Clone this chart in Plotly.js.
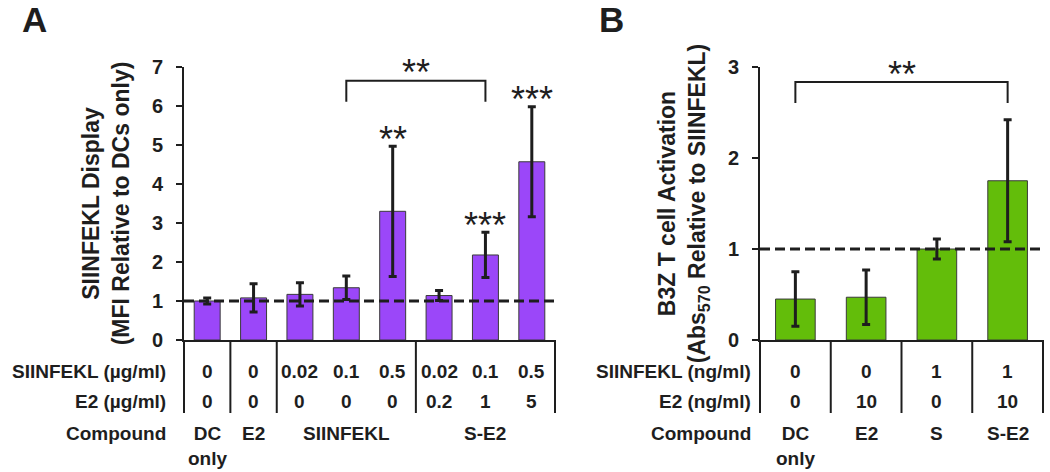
<!DOCTYPE html>
<html>
<head>
<meta charset="utf-8">
<script src="https://cdn.plot.ly/plotly-3.0.1.min.js"></script>
<style>
html,body{margin:0;padding:0;background:#ffffff;}
#chart{width:1050px;height:472px;}
</style>
</head>
<body>
<div id="chart"></div>
<script>
// ---------- Panel A data ----------
const aCompound = ["DC only", "E2", "SIINFEKL", "SIINFEKL", "SIINFEKL", "S-E2", "S-E2", "S-E2"];
const aSiinfekl = ["0", "0", "0.02", "0.1", "0.5", "0.02", "0.1", "0.5"];
const aE2 = ["0", "0", "0", "0", "0", "0.2", "1", "5"];
const aMean = [1.00, 1.08, 1.17, 1.34, 3.30, 1.14, 2.18, 4.57];
const aErr = [0.08, 0.36, 0.30, 0.30, 1.67, 0.13, 0.58, 1.41];
const aStars = ["", "", "", "", "**", "", "***", "***"];
const aTicks = [0, 1, 2, 3, 4, 5, 6, 7];
const aRowLabels = ["SIINFEKL (µg/ml)", "E2 (µg/ml)", "Compound"];
const aBracket = {from: 3, to: 6, label: "**"};

// ---------- Panel B data ----------
const bCompound = ["DC only", "E2", "S", "S-E2"];
const bSiinfekl = ["0", "0", "1", "1"];
const bE2 = ["0", "10", "0", "10"];
const bMean = [0.45, 0.47, 1.00, 1.75];
const bErr = [0.30, 0.30, 0.11, 0.67];
const bTicks = [0, 1, 2, 3];
const bRowLabels = ["SIINFEKL (ng/ml)", "E2 (ng/ml)", "Compound"];
const bBracket = {from: 0, to: 3, label: "**"};

const refLine = 1;

// ---------- style ----------
const FONT = '"Liberation Sans", Arial, Helvetica, sans-serif';
const INK = '#1e1e1e';
const PURPLE = '#9b47f9';
const GREEN = '#63bd0a';

// vertical geometry: plot area from y=67 to y=340 (px)
const TOP = 67, BOTTOM = 340, H = 472;
const PH = BOTTOM - TOP;
const py = p => (BOTTOM - p) / PH;     // pixel -> paper y
const ROW1 = py(371.5), ROW2 = py(401), ROW3TOP = py(421), DIVBOT = py(413);

function idx(arr) { return arr.map((_, i) => i); }

function barTrace(mean, err, color, xa, ya) {
  return {
    type: 'bar', x: idx(mean), y: mean, width: 0.56, xaxis: xa, yaxis: ya,
    marker: {color: color, line: {color: '#3a3a3a', width: 1}},
    error_y: {type: 'data', array: err, visible: true, color: INK, thickness: 3, width: 4},
    hoverinfo: 'skip'
  };
}

function groups(comp) {
  const g = [];
  comp.forEach((c, i) => {
    if (g.length && g[g.length - 1].name === c) g[g.length - 1].end = i;
    else g.push({name: c, start: i, end: i});
  });
  return g;
}

const shapes = [];
const annotations = [];

function buildPanel(p) {
  const n = p.mean.length;
  const xd = p.xa === 'x' ? 'x domain' : 'x2 domain';
  // reference dashed line
  shapes.push({type: 'line', xref: xd, yref: p.ya, x0: 0, x1: 1.006, y0: refLine, y1: refLine,
    line: {color: INK, width: 3, dash: '10px,5px'}, layer: 'above'});
  // group dividers below the axis
  const g = groups(p.comp);
  const bounds = g.map(o => o.start).concat([n]);
  bounds.forEach(b => {
    shapes.push({type: 'line', xref: xd, yref: 'paper', x0: b / n, x1: b / n, y0: 0, y1: DIVBOT,
      line: {color: INK, width: 2}});
  });
  // significance bracket
  const br = p.bracket;
  shapes.push({type: 'path', xref: p.xa, yref: p.ya,
    path: `M ${br.from} ${p.brLow} L ${br.from} ${p.brTop} L ${br.to} ${p.brTop} L ${br.to} ${p.brLow}`,
    line: {color: INK, width: 2}});
  annotations.push({xref: p.xa, yref: p.ya, x: (br.from + br.to) / 2, y: p.brTop, text: br.label,
    showarrow: false, yanchor: 'middle', yshift: 8, font: {size: 36, color: INK, family: FONT}});
  // stars above bars
  if (p.stars) p.stars.forEach((s, i) => {
    if (!s) return;
    annotations.push({xref: p.xa, yref: p.ya, x: i, y: p.mean[i] + p.err[i], text: s, showarrow: false,
      yanchor: 'middle', yshift: 7, font: {size: 36, color: INK, family: FONT}});
  });
  // table rows
  [p.s, p.e].forEach((row, r) => {
    row.forEach((t, i) => {
      annotations.push({xref: p.xa, yref: 'paper', x: i, y: r === 0 ? ROW1 : ROW2, text: t,
        showarrow: false, xanchor: 'center', yanchor: 'middle',
        font: {size: 19, weight: 'bold', color: INK, family: FONT}});
    });
  });
  g.forEach(o => {
    annotations.push({xref: p.xa, yref: 'paper', x: (o.start + o.end) / 2, y: ROW3TOP,
      text: o.name.split(' ').join('<br>'), showarrow: false, xanchor: 'center', yanchor: 'top',
      font: {size: 19, weight: 'bold', color: INK, family: FONT}});
  });
  // row labels
  p.rowLabels.forEach((t, r) => {
    annotations.push({xref: 'paper', yref: 'paper', x: p.labelRight / 1050,
      y: r === 0 ? ROW1 : (r === 1 ? ROW2 : ROW3TOP), text: t, showarrow: false,
      xanchor: 'right', yanchor: r === 2 ? 'top' : 'middle',
      font: {size: 19, weight: 'bold', color: INK, family: FONT}});
  });
  // panel letter
  annotations.push({xref: 'paper', yref: 'paper', x: p.letterX / 1050, y: py(19.5), text: p.letter,
    showarrow: false, xanchor: 'center', yanchor: 'middle',
    font: {size: 35, weight: 'bold', color: INK, family: FONT}});
}

buildPanel({xa: 'x', ya: 'y', mean: aMean, err: aErr, comp: aCompound, s: aSiinfekl, e: aE2,
  stars: aStars, bracket: aBracket, brTop: 6.65, brLow: 6.11, rowLabels: aRowLabels,
  labelRight: 168, letter: 'A', letterX: 34.5});
buildPanel({xa: 'x2', ya: 'y2', mean: bMean, err: bErr, comp: bCompound, s: bSiinfekl, e: bE2,
  stars: null, bracket: bBracket, brTop: 2.835, brLow: 2.605, rowLabels: bRowLabels,
  labelRight: 753, letter: 'B', letterX: 611});

const data = [
  barTrace(aMean, aErr, PURPLE, 'x', 'y'),
  barTrace(bMean, bErr, GREEN, 'x2', 'y2')
];

function xAxis(domain, n, anchor) {
  return {domain: domain, range: [-0.5, n - 0.5], anchor: anchor, showticklabels: false, ticks: '',
    showgrid: false, zeroline: false, showline: true, linecolor: INK, linewidth: 2, fixedrange: true};
}
function yAxis(ticks, anchor, title) {
  return {range: [0, ticks[ticks.length - 1]], tickvals: ticks, ticktext: ticks.map(String), anchor: anchor,
    showgrid: false, zeroline: false, showline: true, linecolor: INK, linewidth: 2,
    ticks: 'outside', ticklen: 6, tickwidth: 2, tickcolor: INK, ticklabelstandoff: 9,
    tickfont: {size: 20, weight: 'bold', color: INK, family: FONT},
    title: {text: title, standoff: 16, font: {size: 23, weight: 'bold', color: INK, family: FONT}},
    automargin: false, fixedrange: true};
}

const layout = {
  width: 1050, height: H,
  margin: {l: 0, r: 0, t: TOP, b: H - BOTTOM, pad: 0},
  paper_bgcolor: '#ffffff', plot_bgcolor: 'rgba(0,0,0,0)',
  showlegend: false,
  font: {family: FONT, color: INK},
  xaxis: xAxis([184 / 1050, 555 / 1050], aMean.length, 'y'),
  yaxis: yAxis(aTicks, 'x', 'SIINFEKL Display<br>(MFI Relative to DCs only)'),
  xaxis2: xAxis([760 / 1050, 1043 / 1050], bMean.length, 'y2'),
  yaxis2: yAxis(bTicks, 'x2', 'B3Z T cell Activation<br>(Abs<sub>570</sub> Relative to SIINFEKL)'),
  shapes: shapes,
  annotations: annotations
};

Plotly.newPlot('chart', data, layout, {displayModeBar: false, staticPlot: true});
</script>
</body>
</html>
